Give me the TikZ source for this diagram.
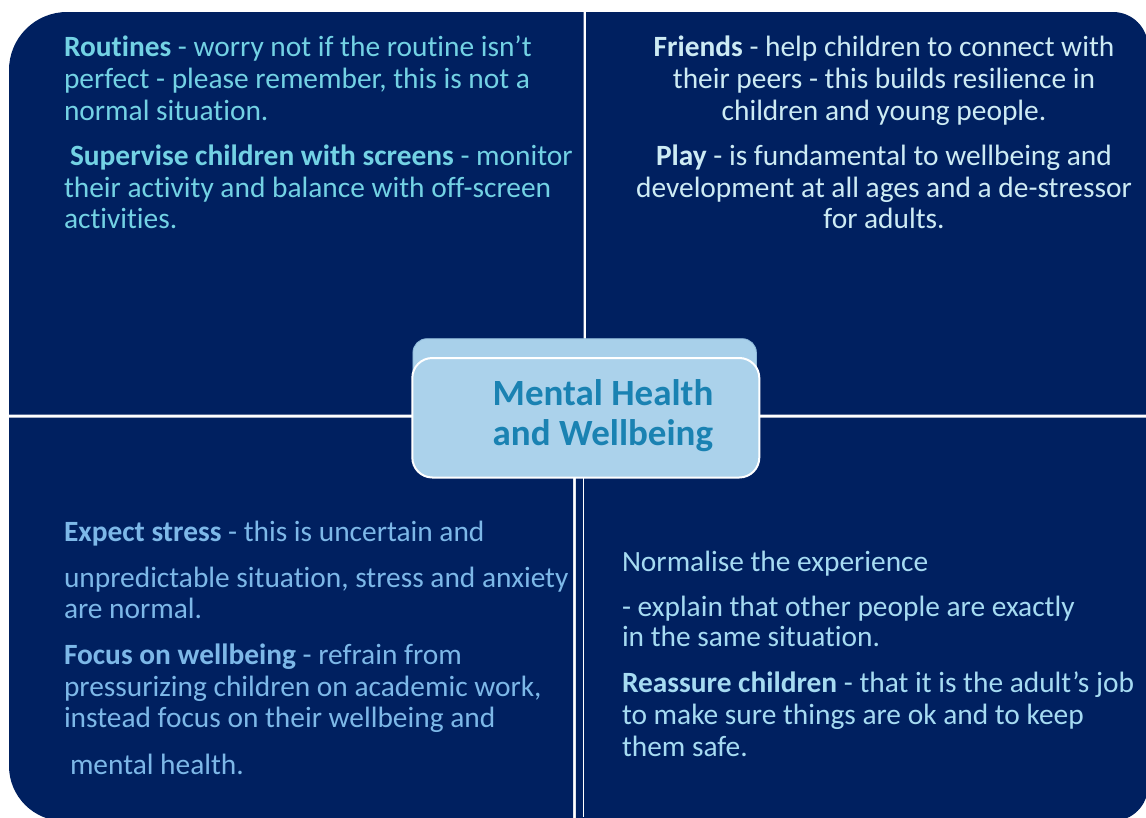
\documentclass[tikz,border=0pt]{standalone}
\usepackage{fontspec}
\setmainfont[Ligatures=NoCommon]{Carlito}
\definecolor{navy}{HTML}{002060}
\definecolor{tlcol}{HTML}{73D2E4}
\definecolor{trcol}{HTML}{CDEBF4}
\definecolor{blcol}{HTML}{7DB8E8}
\definecolor{brcol}{HTML}{A6DBF2}
\definecolor{titlecol}{HTML}{1A82B2}
\definecolor{boxfill}{HTML}{ABD2EB}
\definecolor{tabfill}{HTML}{A8D0EA}
\definecolor{tabline}{HTML}{8EB9DA}
\begin{document}
\begin{tikzpicture}[x=1pt,y=-1pt,
  txt/.style={inner sep=0pt, outer sep=0pt, font=\fontsize{29.4}{32}\selectfont},
  lline/.style={txt, anchor=base west},
  cline/.style={txt, anchor=base},
  quad/.style={fill=navy},
  title/.style={inner sep=0pt, anchor=base west, text=titlecol, font=\fontsize{37}{40}\selectfont\bfseries},
  sep/.style={draw=white, line width=1.6pt}]
\useasboundingbox (0,0) rectangle (1146,817);
\fill[white] (0,0) rectangle (1146,817);
% quadrants
\fill[quad] (9,414.5) -- (9,70) arc[start angle=180, end angle=270, radius=58] -- (583.5,12) -- (583.5,414.5) -- cycle;
\fill[quad] (586,12) -- (1113,12) arc[start angle=270, end angle=360, radius=35] -- (1148,414.5) -- (586,414.5) -- cycle;
\fill[quad] (9,417.5) -- (9,766) arc[start angle=180, end angle=90, radius=55] -- (573,821) -- (573,417.5) -- cycle;
\fill[quad] (575.8,417.5) -- (1148,417.5) -- (1148,786) arc[start angle=0, end angle=90, radius=35] -- (575.8,821) -- cycle;
\coordinate (sepT) at (583.5,417.5);
\coordinate (sepB) at (583.5,817);
\draw[sep] (sepT) -- (sepB);
% central box
\node[draw=tabline, line width=0.8pt, fill=tabfill, rounded corners=14pt, inner sep=0pt, minimum width=343.5pt, minimum height=100pt, anchor=north west] (tab) at (412.5,338.3) {};
\node[draw=white, line width=2pt, fill=boxfill, rounded corners=20pt, inner sep=0pt, minimum width=347pt, minimum height=119.5pt, anchor=north west] (center) at (411.3,357) {};
\node[title] (t1) at (492.5,405) {Mental Health};
\node[title] (t2) at (492.5,445) {and Wellbeing};
% top left
\begin{scope}[every node/.append style={text=tlcol}]
\node[lline] (tl1) at (64,56.7) {\textbf{Routines} - worry not if the routine isn’t};
\node[lline] (tl2) at (64,88.5) {perfect - please remember, this is not a};
\node[lline] (tl3) at (64,120) {normal situation.};
\node[lline] (tl4) at (70,165) {\textbf{Supervise children with screens} - monitor};
\node[lline] (tl5) at (64,197) {their activity and balance with off-screen};
\node[lline] (tl6) at (64,228.5) {activities.};
\end{scope}
% top right
\begin{scope}[every node/.append style={text=trcol}]
\node[cline] (tr1) at (884,56.7) {\textbf{Friends} - help children to connect with};
\node[cline] (tr2) at (884,88.5) {their peers - this builds resilience in};
\node[cline] (tr3) at (884,120) {children and young people.};
\node[cline] (tr4) at (884,165) {\textbf{Play} - is fundamental to wellbeing and};
\node[cline] (tr5) at (884,197) {development at all ages and a de-stressor};
\node[cline] (tr6) at (884,228.5) {for adults.};
\end{scope}
% bottom left
\begin{scope}[every node/.append style={text=blcol}]
\node[lline] (bl1) at (64,541) {\textbf{Expect stress} - this is uncertain and};
\node[lline] (bl2) at (64,587) {unpredictable situation, stress and anxiety};
\node[lline] (bl3) at (64,618.5) {are normal.};
\node[lline] (bl4) at (64,664) {\textbf{Focus on wellbeing} - refrain from};
\node[lline] (bl5) at (64,696) {pressurizing children on academic work,};
\node[lline] (bl6) at (64,727.5) {instead focus on their wellbeing and};
\node[lline] (bl7) at (70,774) {mental health.};
\end{scope}
% bottom right
\begin{scope}[every node/.append style={text=brcol}]
\node[lline] (br1) at (622,571) {Normalise the experience};
\node[lline] (br2) at (622,616.5) {- explain that other people are exactly};
\node[lline] (br3) at (622,646.5) {in the same situation.};
\node[lline] (br4) at (622,692) {\textbf{Reassure children} - that it is the adult’s job};
\node[lline] (br5) at (622,724) {to make sure things are ok and to keep};
\node[lline] (br6) at (622,756) {them safe.};
\end{scope}
\end{tikzpicture}
\end{document}
